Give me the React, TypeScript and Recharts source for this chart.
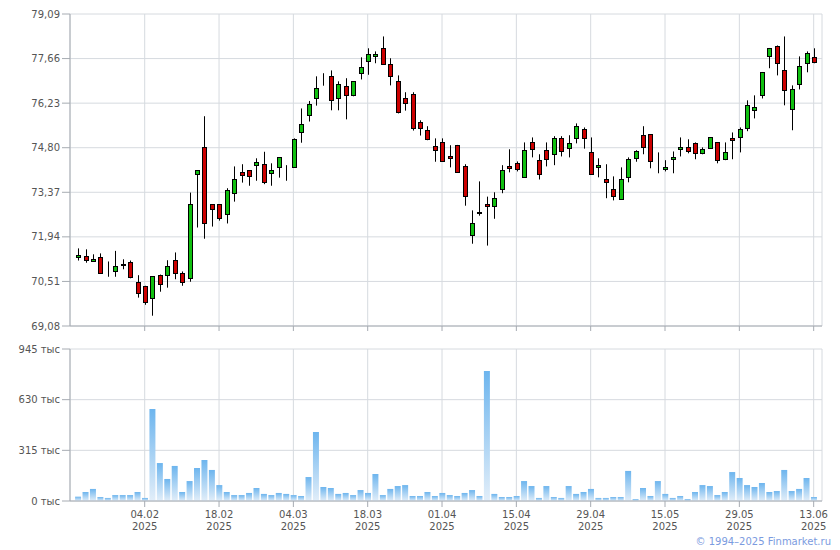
import { ComposedChart, BarChart, Bar, XAxis, YAxis, CartesianGrid } from "recharts";

// daily candles, 22.01.2025 .. 13.06.2025 (100 sessions)
const opens = [
  71.28, 71.32, 71.15, 71.28, 70.91, 70.86, 71.06, 71.12, 70.48, 70.35,
  69.97, 70.71, 70.73, 71.19, 70.77, 70.61, 73.95, 74.81, 72.98, 72.98,
  72.66, 73.34, 74.02, 74.07, 74.24, 74.27, 73.98, 74.17, 74.16, 74.19,
  75.29, 75.84, 76.38, 77.03, 77.09, 76.38, 76.77, 76.48, 77.19, 77.57,
  77.73, 77.99, 77.48, 76.93, 76.38, 76.51, 75.61, 75.36, 74.84, 74.97,
  74.52, 74.88, 74.2, 71.99, 72.73, 72.98, 72.92, 73.46, 74.2, 74.3,
  73.85, 74.97, 74.4, 74.72, 74.59, 75.1, 74.78, 75.1, 75.39, 74.65,
  74.17, 73.79, 73.46, 73.14, 73.85, 74.46, 75.2, 75.23, 74.21, 74.11,
  74.43, 74.75, 74.81, 74.94, 74.62, 74.78, 74.97, 74.43, 75.1, 75.13,
  75.42, 76.0, 76.48, 77.73, 78.05, 77.28, 76.03, 76.83, 77.51, 77.7,
];
const highs = [
  71.57, 71.54, 71.38, 71.41, 71.15, 71.49, 71.22, 71.18, 70.71, 70.37,
  70.68, 70.73, 71.19, 71.44, 70.83, 73.36, 74.08, 75.81, 72.99, 72.99,
  73.5, 74.2, 74.27, 74.08, 74.46, 74.67, 74.3, 74.5, 74.24, 75.1,
  76.06, 76.3, 77.09, 77.19, 77.28, 76.93, 77.03, 76.94, 77.7, 77.99,
  77.89, 78.37, 77.67, 77.12, 76.58, 76.58, 75.68, 75.49, 75.1, 75.1,
  74.88, 74.89, 74.27, 72.79, 73.72, 73.23, 73.37, 74.24, 74.75, 74.36,
  74.97, 75.13, 74.59, 74.97, 75.17, 75.17, 75.2, 75.58, 75.45, 75.13,
  74.46, 74.27, 73.88, 74.17, 74.49, 74.72, 75.49, 75.24, 74.65, 74.4,
  74.68, 75.13, 75.07, 74.97, 74.81, 75.14, 74.98, 74.97, 75.29, 75.45,
  76.32, 76.48, 77.23, 78.0, 78.08, 78.37, 76.8, 77.73, 77.89, 77.99,
];
const lows = [
  71.18, 71.11, 71.14, 70.77, 70.66, 70.66, 70.9, 70.61, 69.99, 69.76,
  69.41, 70.18, 70.31, 70.58, 70.37, 70.5, 72.24, 71.88, 72.27, 72.46,
  72.37, 73.07, 73.68, 73.58, 73.74, 73.63, 73.58, 73.84, 73.74, 74.18,
  74.96, 75.64, 76.15, 76.79, 76.0, 76.0, 75.71, 76.45, 76.99, 77.14,
  77.51, 77.46, 76.8, 75.9, 75.99, 75.35, 75.19, 75.04, 74.35, 74.35,
  74.17, 74.0, 72.94, 71.72, 72.62, 71.66, 72.52, 73.34, 74.01, 74.04,
  73.84, 74.49, 73.78, 74.2, 74.24, 74.52, 74.49, 74.94, 74.77, 73.94,
  73.85, 73.18, 73.11, 73.13, 73.69, 74.35, 74.59, 74.14, 73.98, 74.04,
  73.98, 74.52, 74.62, 74.43, 74.59, 74.77, 74.3, 74.4, 74.43, 74.65,
  75.33, 75.74, 76.38, 77.35, 77.12, 76.16, 75.36, 76.67, 77.22, 77.51,
];
const closes = [
  71.35, 71.21, 71.22, 70.79, 70.9, 70.99, 71.05, 70.66, 70.13, 69.86,
  70.67, 70.42, 70.99, 70.77, 70.5, 72.98, 74.07, 72.37, 72.82, 72.54,
  73.43, 73.79, 73.94, 73.88, 74.33, 73.71, 74.07, 74.49, 74.15, 75.07,
  75.55, 76.19, 76.7, 77.04, 76.32, 76.83, 76.48, 76.93, 77.38, 77.8,
  77.8, 77.48, 77.09, 75.96, 76.22, 75.42, 75.42, 75.07, 74.72, 74.36,
  74.46, 74.01, 73.26, 72.37, 72.72, 72.92, 73.18, 74.07, 74.14, 74.11,
  74.72, 74.75, 73.95, 74.43, 75.1, 74.68, 74.94, 75.49, 75.1, 73.95,
  74.24, 73.69, 73.24, 73.79, 74.43, 74.68, 74.81, 74.36, 74.2, 74.17,
  74.49, 74.81, 74.68, 74.62, 74.75, 75.13, 74.4, 74.65, 75.04, 75.39,
  76.16, 76.1, 77.22, 77.99, 77.51, 76.64, 76.67, 77.41, 77.83, 77.54,
];
// volume, thousands
const volumes = [
  27, 56, 75, 25, 19, 37, 37, 37, 56, 19,
  572, 236, 137, 218, 56, 124, 205, 255, 193, 99,
  56, 37, 37, 50, 81, 44, 37, 50, 44, 37,
  31, 149, 429, 87, 81, 44, 50, 37, 68, 50,
  168, 37, 75, 93, 99, 31, 31, 56, 31, 50,
  37, 31, 50, 68, 31, 808, 44, 25, 25, 31,
  124, 93, 19, 93, 25, 19, 93, 44, 56, 75,
  19, 19, 25, 25, 187, 12, 81, 31, 124, 44,
  19, 31, 12, 56, 99, 93, 37, 56, 180, 143,
  99, 87, 112, 56, 62, 193, 62, 75, 143, 25,
];

const tickIdx = [9, 19, 29, 39, 49, 59, 69, 79, 89, 99];
const tickDates = ["04.02", "18.02", "04.03", "18.03", "01.04", "15.04", "29.04", "15.05", "29.05", "13.06"];
const tickYear = "2025";
const priceTicks = [69.08, 70.51, 71.94, 73.37, 74.8, 76.23, 77.66, 79.09];
const volTicks = [0, 315, 630, 945];

const data = opens.map((o, i) => ({
  i,
  open: o,
  high: highs[i],
  low: lows[i],
  close: closes[i],
  vol: volumes[i],
}));

const FONT = "'DejaVu Sans', Verdana, sans-serif";
const GRID = "#d6dadf";
const AXIS = "#a6abb2";
const TEXT = "#555";
const xDomain: [number, number] = [-1.05, 100.12];

function Candle(props: any) {
  const { x, y, width, height, payload } = props;
  if (height == null || !payload) return null;
  const { open, high, low, close } = payload;
  const top = Math.min(y, y + height);
  const h = Math.abs(height);
  const k = h / (high - low);
  const yOf = (v: number) => top + (high - v) * k;
  const cx = Math.round(x + width / 2) + 0.5;
  const up = close >= open;
  const b1 = Math.round(yOf(Math.max(open, close))) + 0.5;
  const b2 = Math.max(Math.round(yOf(Math.min(open, close))) + 0.5, b1);
  return (
    <g>
      <line x1={cx} x2={cx} y1={top} y2={top + h} stroke="#000" strokeWidth={1} />
      <rect x={cx - 2} y={b1} width={4} height={b2 - b1} fill={up ? "#10c010" : "#cc0000"} stroke="#000" strokeWidth={1} />
    </g>
  );
}

function DateTick(props: any) {
  const { x, y, payload } = props;
  const k = tickIdx.indexOf(payload.value);
  return (
    <text x={x} y={y} textAnchor="middle" fill={TEXT} fontSize={10} fontFamily={FONT}>
      <tspan x={x} dy={9}>{tickDates[k]}</tspan>
      <tspan x={x} dy={12}>{tickYear}</tspan>
    </text>
  );
}

export default function App() {
  return (
    <div style={{ position: "absolute", left: 0, top: 0, width: 840, height: 550, background: "#fff", fontFamily: FONT }}>
      <div style={{ position: "absolute", left: 0, top: 0 }}>
        <ComposedChart width={840} height={340} data={data} margin={{ top: 14, right: 18, bottom: 0, left: 0 }}>
          <CartesianGrid stroke={GRID} />
          <XAxis
            dataKey="i"
            type="number"
            domain={xDomain}
            ticks={tickIdx}
            height={14}
            tickFormatter={() => ""}
            tickSize={5}
            stroke={AXIS}
            allowDataOverflow
          />
          <YAxis
            type="number"
            domain={[69.08, 79.09]}
            ticks={priceTicks}
            width={70}
            tickSize={8}
            tickMargin={2}
            stroke={AXIS}
            tick={{ fill: TEXT, fontSize: 10, fontFamily: FONT }}
            tickFormatter={(v: number) => v.toFixed(2).replace(".", ",")}
            allowDataOverflow
          />
          <Bar dataKey={(d: any) => [d.low, d.high]} barSize={6} shape={<Candle />} isAnimationActive={false} />
        </ComposedChart>
      </div>
      <div style={{ position: "absolute", left: 0, top: 340 }}>
        <BarChart width={840} height={210} data={data} margin={{ top: 9, right: 18, bottom: 0, left: 0 }}>
          <defs>
            <linearGradient id="volGrad" x1="0" y1="0" x2="0" y2="1">
              <stop offset="0%" stopColor="#6db5ee" />
              <stop offset="100%" stopColor="#e2eef9" />
            </linearGradient>
          </defs>
          <CartesianGrid stroke={GRID} />
          <XAxis
            dataKey="i"
            type="number"
            domain={xDomain}
            ticks={tickIdx}
            height={49}
            tickSize={6}
            tickMargin={2}
            stroke={AXIS}
            tick={<DateTick />}
            allowDataOverflow
          />
          <YAxis
            type="number"
            domain={[0, 945]}
            ticks={volTicks}
            width={70}
            tickSize={8}
            tickMargin={2}
            stroke={AXIS}
            tick={{ fill: TEXT, fontSize: 10, fontFamily: FONT }}
            tickFormatter={(v: number) => `${v} тыс`}
          />
          <Bar dataKey="vol" barSize={6} fill="url(#volGrad)" isAnimationActive={false} />
        </BarChart>
      </div>
      <div style={{ position: "absolute", right: 9, top: 536, fontSize: 10, color: "#7b9be0", fontFamily: FONT }}>
        © 1994–2025 Finmarket.ru
      </div>
    </div>
  );
}
